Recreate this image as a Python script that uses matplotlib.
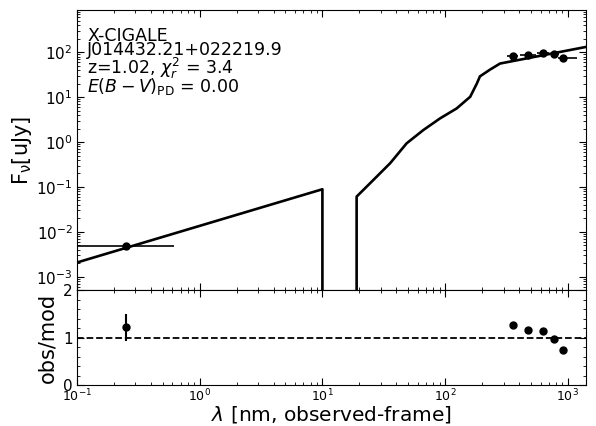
import numpy as np
import matplotlib
matplotlib.use('Agg')
import matplotlib.pyplot as plt
from matplotlib.ticker import MultipleLocator

# best model SED (nm, uJy); 1e-9 marks the gap
model_wl = [0.1, 10.0, 10.0, 19.0, 19.0, 26.0, 35.6, 48.6, 66.4, 90.8,
            124.0, 160.0, 181.0, 192.0, 232.0, 280.0, 1400.0]
model_flux = [2.08e-3, 0.089, 1e-9, 1e-9, 0.061, 0.143, 0.337, 0.94, 1.85, 3.36,
              5.6, 10.2, 20.0, 29.0, 41.0, 56.0, 131.0]

# X-ray photometry
xray_wl = [0.25]
xray_flux = [4.9e-3]
xray_flux_err = [0.4e-3]
xray_band = [0.1, 0.62]
xray_ratio = [1.23]
xray_ratio_err = [[0.29], [0.28]]

# optical photometry (ugriz)
opt_wl = [358.0, 475.0, 627.0, 764.0, 905.0]
opt_flux = [81.0, 86.0, 96.0, 90.0, 76.0]
opt_flux_err = [4.0, 4.0, 5.0, 5.0, 5.0]
opt_lo = [320.0, 410.0, 560.0, 690.0, 830.0]
opt_hi = [395.0, 545.0, 700.0, 840.0, 1190.0]
opt_ratio = [1.26, 1.16, 1.15, 0.97, 0.75]

fig = plt.figure(figsize=(5.96, 4.26), dpi=100)
gs = fig.add_gridspec(2, 1, height_ratios=[2.96, 1], hspace=0,
                      left=0.129, right=0.983, top=0.977, bottom=0.096)
ax = fig.add_subplot(gs[0])
axr = fig.add_subplot(gs[1], sharex=ax)

ax.plot(model_wl, model_flux, color='black', lw=1.9)

xw = np.array(xray_wl)
ax.errorbar(xray_wl, xray_flux, yerr=xray_flux_err,
            xerr=[xw - xray_band[0], xray_band[1] - xw],
            fmt='o', color='black', ms=5, elinewidth=1.2, capsize=0)

ow = np.array(opt_wl)
ax.errorbar(opt_wl, opt_flux, yerr=opt_flux_err,
            xerr=[ow - np.array(opt_lo), np.array(opt_hi) - ow],
            fmt='o', color='black', ms=5, elinewidth=1.2, capsize=0)

ax.set_xscale('log')
ax.set_yscale('log')
ax.set_xlim(0.1, 1400)
ax.set_ylim(5e-4, 880)
ax.set_ylabel(r'F$_{\rm \nu}$[uJy]', fontsize=15, labelpad=2)
ax.tick_params(labelbottom=False)

tx = 0.02
fs = 12.5
ax.text(tx, 0.890, 'X-CIGALE', transform=ax.transAxes, fontsize=fs, va='baseline')
ax.text(tx, 0.838, 'J014432.21+022219.9', transform=ax.transAxes, fontsize=fs, va='baseline')
ax.text(tx, 0.772, r'z=1.02, $\chi^2_r$ = 3.4', transform=ax.transAxes, fontsize=fs, va='baseline')
ax.text(tx, 0.706, r'$E(B-V)_{\rm PD}$ = 0.00', transform=ax.transAxes, fontsize=fs, va='baseline')

axr.axhline(1.0, color='black', ls='--', lw=1.3)
axr.errorbar(xray_wl, xray_ratio, yerr=xray_ratio_err, fmt='o', color='black',
             ms=5, elinewidth=1.5, capsize=0)
axr.plot(opt_wl, opt_ratio, 'o', color='black', ms=5)
axr.set_ylim(0, 2)
axr.yaxis.set_major_locator(MultipleLocator(1))
axr.yaxis.set_minor_locator(MultipleLocator(0.2))
axr.set_ylabel('obs/mod', fontsize=15, labelpad=4)
axr.set_xlabel(r'$\lambda$ [nm, observed-frame]', fontsize=14.5, labelpad=0)

for a in (ax, axr):
    a.tick_params(which='both', direction='in', top=True, right=True)
    a.tick_params(which='major', length=5)
    a.tick_params(which='minor', length=2.5)
    a.tick_params(axis='y', labelsize=11, pad=3)
axr.tick_params(axis='x', labelsize=9, pad=2)

fig.savefig('out.png', dpi=100)
